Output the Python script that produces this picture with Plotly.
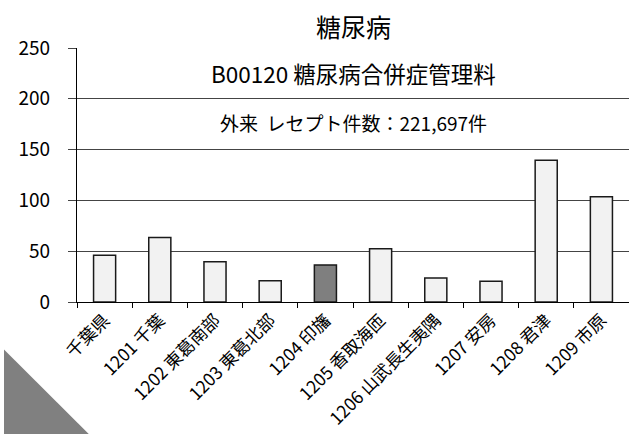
import plotly.graph_objects as go

categories = ["千葉県", "1201 千葉", "1202 東葛南部", "1203 東葛北部", "1204 印旛",
              "1205 香取海匝", "1206 山武長生夷隅", "1207 安房", "1208 君津", "1209 市原"]
values = [46, 63.5, 39.5, 21, 36.5, 52.5, 23.5, 20.5, 139.5, 103.5]
highlight = "1204 印旛"
title_text = "糖尿病"
note1 = "B00120 糖尿病合併症管理料"
note2 = "外来  レセプト件数：221,697件"

FONT = "Noto Sans CJK JP"
W, H = 629, 434
L, R, T, B = 77, 629, 48, 302.5

colors = ["#7f7f7f" if c == highlight else "#f2f2f2" for c in categories]

fig = go.Figure(go.Bar(
    x=categories, y=values, width=0.4,
    marker=dict(color=colors, line=dict(color="#1a1a1a", width=1.5)),
))

def px(x):
    return (x - L) / (R - L)

def py(y):
    return (B - y) / (B - T)

fig.add_shape(type="path", xref="paper", yref="paper",
              path=f"M {px(4)} {py(350)} L {px(4)} {py(440)} L {px(94)} {py(440)} Z",
              fillcolor="#808080", line=dict(width=0), layer="above")

fig.add_annotation(text=title_text, xref="paper", yref="paper", x=0.5, y=py(26),
                   showarrow=False, font=dict(size=25, color="#000", family=FONT),
                   xanchor="center", yanchor="middle")
fig.add_annotation(text=note1, xref="paper", yref="paper", x=0.5, y=py(73),
                   showarrow=False, font=dict(size=22.5, color="#000", family=FONT),
                   xanchor="center", yanchor="middle")
fig.add_annotation(text=note2, xref="paper", yref="paper", x=0.5, y=py(123),
                   showarrow=False, font=dict(size=19, color="#000", family=FONT),
                   xanchor="center", yanchor="middle")

fig.update_layout(
    width=W, height=H,
    margin=dict(l=L, r=W - R, t=T, b=H - B, autoexpand=False),
    paper_bgcolor="white", plot_bgcolor="white",
    showlegend=False,
    font=dict(family=FONT, color="#000"),
    bargap=0.6,
)
fig.update_xaxes(
    type="category", tickangle=-45, tickfont=dict(size=17.5, family=FONT, color="#000"),
    showline=True, linecolor="#000", linewidth=1.3,
    ticks="outside", ticklen=5, tickcolor="#000", tickson="boundaries",
    showgrid=False, zeroline=False, automargin=False,
)
fig.update_yaxes(
    range=[0, 250], tickvals=[0, 50, 100, 150, 200, 250],
    tickfont=dict(size=19, family=FONT, color="#000"),
    showline=True, linecolor="#000", linewidth=1.3,
    ticks="outside", ticklen=8, tickcolor="#444",
    showgrid=True, gridcolor="#444", gridwidth=1.3,
    zeroline=False, ticklabelstandoff=14, automargin=False,
)

fig.write_html("out.html", config={"displayModeBar": False},
               post_script="document.body.style.margin='0';document.body.style.overflow='hidden';")
